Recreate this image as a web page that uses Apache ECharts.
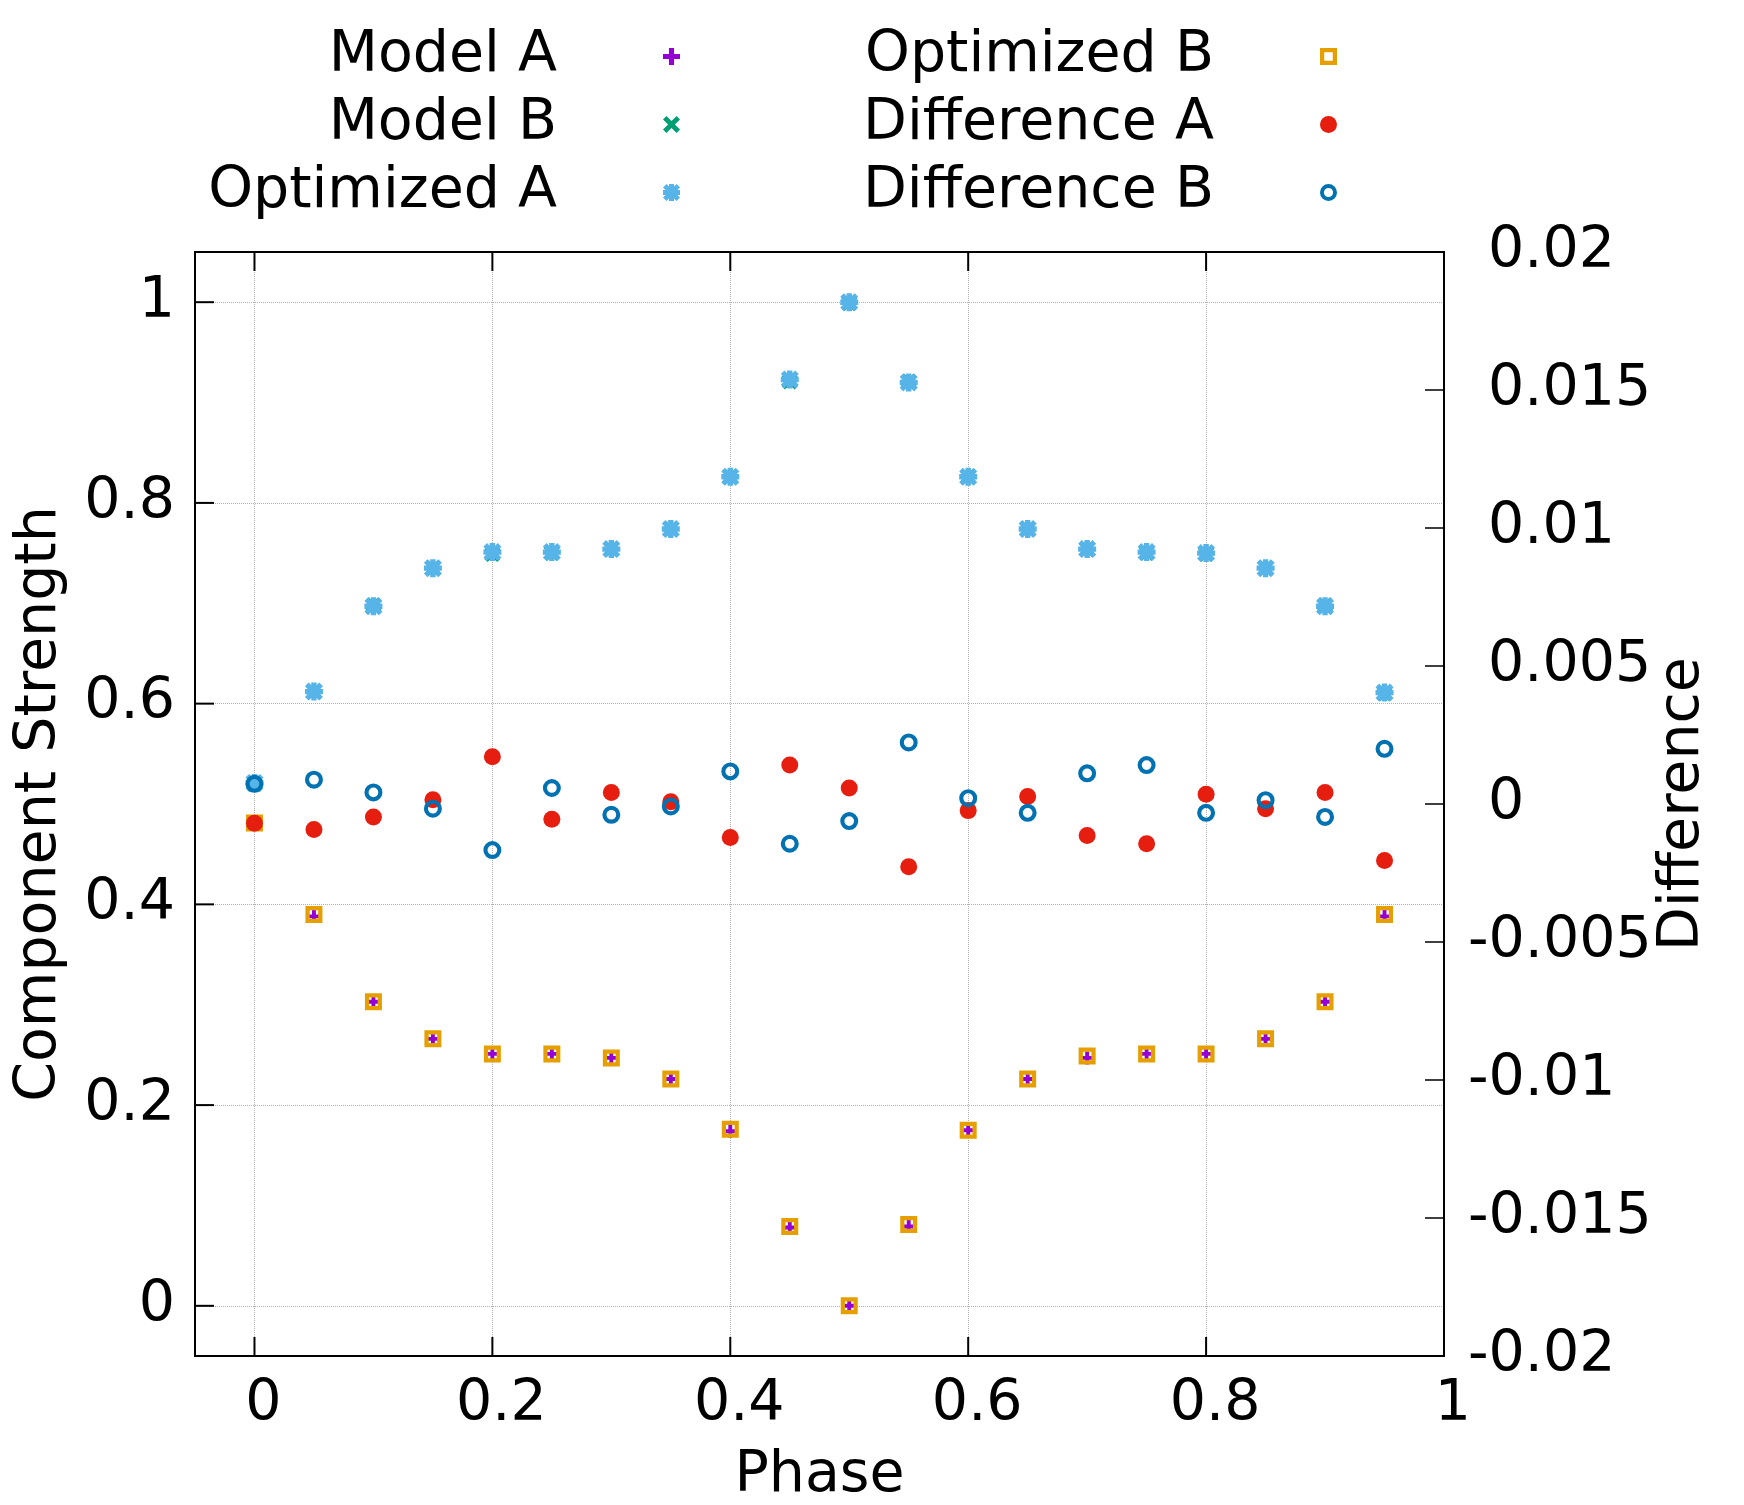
<!DOCTYPE html>
<html lang="en">
<head>
    <meta charset="UTF-8">
    <title>Component Strength vs Phase</title>
    <script src="https://cdn.jsdelivr.net/npm/echarts@6/dist/echarts.min.js"></script>
    <style>
        body {
            margin: 0;
            background-color: #ffffff;
        }
        #chart {
            width: 1744px;
            height: 1505px;
        }
    </style>
</head>
<body>
    <div id="chart"></div>

    <script>
        // phase values (x)
        const phase = [0, 0.05, 0.1, 0.15, 0.2, 0.25, 0.3, 0.35, 0.4, 0.45,
                       0.5, 0.55, 0.6, 0.65, 0.7, 0.75, 0.8, 0.85, 0.9, 0.95];

        // component strength, left axis
        const modelA = [0.480, 0.388, 0.303, 0.266, 0.251, 0.251, 0.247, 0.226, 0.174, 0.078,
                        0.000, 0.079, 0.175, 0.226, 0.247, 0.251, 0.251, 0.266, 0.303, 0.388];
        const modelB = [0.520, 0.612, 0.698, 0.735, 0.749, 0.750, 0.754, 0.774, 0.826, 0.921,
                        0.999, 0.921, 0.826, 0.774, 0.754, 0.750, 0.749, 0.735, 0.698, 0.610];
        const optimizedA = [0.521, 0.612, 0.697, 0.735, 0.751, 0.751, 0.754, 0.774, 0.826, 0.923,
                            1.000, 0.920, 0.826, 0.774, 0.754, 0.751, 0.750, 0.735, 0.697, 0.611];
        const optimizedB = [0.481, 0.390, 0.303, 0.266, 0.251, 0.251, 0.247, 0.226, 0.176, 0.079,
                            0.000, 0.081, 0.175, 0.226, 0.249, 0.251, 0.251, 0.266, 0.303, 0.390];

        // differences, right axis
        const diffA = [-0.00070, -0.00092, -0.00047, 0.00015, 0.00171, -0.00055, 0.00042, 0.00008, -0.00121, 0.00141,
                       0.00058, -0.00227, -0.00024, 0.00027, -0.00114, -0.00144, 0.00035, -0.00017, 0.00042, -0.00205];
        const diffB = [0.00073, 0.00088, 0.00042, -0.00017, -0.00167, 0.00058, -0.00039, -0.00009, 0.00118, -0.00144,
                       -0.00062, 0.00223, 0.00021, -0.00032, 0.00111, 0.00141, -0.00032, 0.00014, -0.00047, 0.00200];

        // major tick values
        const xTickVals = [0, 0.2, 0.4, 0.6, 0.8];
        const yTickVals = [0, 0.2, 0.4, 0.6, 0.8, 1];

        // axis ranges (gnuplot style, ticks every 0.2 but range padded)
        const X_MIN = -0.05, X_MAX = 1;
        const Y_MIN = -0.05, Y_MAX = 1.05;

        const FONT = 'DejaVu Sans';
        const FS = 57;
        const TICK_LEN = 19;

        // display axes are category axes on a 0.05 grid, so labels / grid lines can be
        // picked per value while the data sits on hidden value axes with the same range
        function steps(lo, hi) {
            const out = [];
            const n = Math.round((hi - lo) / 0.05);
            for (let i = 0; i <= n; i++) out.push(String(Number((lo + i * 0.05).toFixed(2))));
            return out;
        }
        const xCats = steps(X_MIN, X_MAX);
        const yCats = steps(Y_MIN, Y_MAX);

        function isMajor(index, value) {
            const v = Number(value);
            return v >= 0 && Math.abs(v * 5 - Math.round(v * 5)) < 1e-6;
        }

        // gnuplot-like point shapes (thick strokes)
        const PLUS = 'M7,0 H13 V7 H20 V13 H13 V20 H7 V13 H0 V7 H7 Z';
        const CROSS = 'M0,4 L4,0 L10,6 L16,0 L20,4 L14,10 L20,16 L16,20 L10,14 L4,20 L0,16 L6,10 Z';
        const shapes = {
            plus: 'path://' + PLUS,
            cross: 'path://' + CROSS,
            star: 'path://' + PLUS + ' ' + CROSS,
            openSquare: 'path://M0,0 H20 V20 H0 Z M5,5 V15 H15 V5 Z',
            openCircle: 'path://M10,0 A10,10 0 1,1 10,20 A10,10 0 1,1 10,0 Z M10,4.6 A5.4,5.4 0 1,0 10,15.4 A5.4,5.4 0 1,0 10,4.6 Z'
        };

        function pairs(ys) {
            return phase.map((x, i) => [x, ys[i]]);
        }

        function fmtNum(v) {
            return String(Number(Number(v).toFixed(4)));
        }

        function scatter(name, ys, yAxisIndex, symbol, size, color) {
            return {
                name: name,
                type: 'scatter',
                xAxisIndex: 1,
                yAxisIndex: yAxisIndex,
                data: pairs(ys),
                symbol: symbol,
                symbolSize: size,
                itemStyle: { color: color, opacity: 1 },
                emphasis: { disabled: true }
            };
        }

        // inward tick marks on the left / bottom / top borders
        // (points sit exactly on the border, so clipping is turned off)
        function tickMarks(data, size, offset) {
            return {
                type: 'scatter',
                xAxisIndex: 1,
                yAxisIndex: 1,
                data: data,
                symbol: 'rect',
                symbolSize: size,
                symbolOffset: offset,
                itemStyle: { color: '#000', opacity: 1 },
                clip: false,
                silent: true,
                z: 5
            };
        }

        function legendColumn(names, right) {
            return {
                data: names,
                orient: 'vertical',
                top: 23,
                right: right,
                align: 'right',
                itemWidth: 17,
                itemHeight: 17,
                itemGap: 11,
                selectedMode: false,
                formatter: '{n|{name}}{s|\u00a0}',
                textStyle: {
                    fontSize: FS,
                    fontFamily: FONT,
                    color: '#000',
                    rich: {
                        n: { width: 380, align: 'right', fontSize: FS, fontFamily: FONT, color: '#000', lineHeight: 57 },
                        s: { width: 101, fontSize: FS, lineHeight: 57 }
                    }
                }
            };
        }

        const gridLine = { color: '#b0b0b0', width: 1, type: 'dotted' };
        const frameLine = { show: true, onZero: false, lineStyle: { color: '#000', width: 2 } };
        const nameStyle = { fontSize: FS, fontFamily: FONT, color: '#000' };

        const option = {
            animation: false,
            backgroundColor: '#ffffff',
            textStyle: { fontFamily: FONT },
            grid: {
                left: 195,
                right: 300,
                top: 252,
                bottom: 149,
                show: true,
                borderColor: '#000',
                borderWidth: 2,
                containLabel: false,
                outerBoundsMode: 'none'
            },
            legend: [
                legendColumn(['Model A', 'Model B', 'Optimized A'], 1059),
                legendColumn(['Optimized B', 'Difference A', 'Difference B'], 402)
            ],
            xAxis: [
                {
                    // bottom axis: labels and vertical grid
                    type: 'category',
                    data: xCats,
                    boundaryGap: false,
                    position: 'bottom',
                    z: 0,
                    name: 'Phase',
                    nameLocation: 'middle',
                    nameGap: 92,
                    nameTextStyle: nameStyle,
                    axisLine: frameLine,
                    axisTick: { show: false },
                    axisLabel: {
                        interval: isMajor,
                        fontSize: FS,
                        fontFamily: FONT,
                        color: '#000',
                        margin: 21,
                        padding: [0, 0, 0, 18],
                        formatter: fmtNum
                    },
                    splitLine: { show: true, interval: isMajor, lineStyle: gridLine }
                },
                {
                    // data axis
                    type: 'value',
                    min: X_MIN,
                    max: X_MAX,
                    show: false
                }
            ],
            yAxis: [
                {
                    // left axis: labels and horizontal grid
                    type: 'category',
                    data: yCats,
                    boundaryGap: false,
                    position: 'left',
                    z: 0,
                    name: 'Component Strength',
                    nameLocation: 'middle',
                    nameRotate: 90,
                    nameGap: 126,
                    nameTextStyle: nameStyle,
                    axisLine: frameLine,
                    axisTick: { show: false },
                    axisLabel: {
                        interval: isMajor,
                        fontSize: FS,
                        fontFamily: FONT,
                        color: '#000',
                        margin: 20,
                        formatter: fmtNum
                    },
                    splitLine: { show: true, interval: isMajor, lineStyle: gridLine }
                },
                {
                    // data axis for component strength
                    type: 'value',
                    position: 'left',
                    min: Y_MIN,
                    max: Y_MAX,
                    show: false
                },
                {
                    type: 'value',
                    position: 'right',
                    min: -0.02,
                    max: 0.02,
                    interval: 0.005,
                    z: 3,
                    name: 'Difference',
                    nameLocation: 'middle',
                    nameRotate: 90,
                    nameGap: 211,
                    nameMoveOverlap: false,
                    nameTextStyle: nameStyle,
                    axisLine: frameLine,
                    axisTick: { show: true, inside: true, length: TICK_LEN, lineStyle: { color: '#000', width: 1.5 } },
                    axisLabel: {
                        fontSize: FS,
                        fontFamily: FONT,
                        color: '#000',
                        margin: 24,
                        align: 'left',
                        // negative labels start ~20px further left, like gnuplot draws them
                        formatter: function (v) {
                            const s = fmtNum(v);
                            return v < -1e-9 ? '{n|' + s + '}' : '{p|' + s + '}';
                        },
                        rich: {
                            n: { fontSize: FS, fontFamily: FONT, color: '#000' },
                            p: { fontSize: FS, fontFamily: FONT, color: '#000', padding: [0, 0, 0, 20] }
                        }
                    },
                    splitLine: { show: false }
                }
            ],
            series: [
                scatter('Model A', modelA, 1, shapes.plus, 13, '#9400d3'),
                scatter('Model B', modelB, 1, shapes.cross, 16, '#009e73'),
                scatter('Optimized A', optimizedA, 1, shapes.star, 18, '#56b4e9'),
                scatter('Optimized B', optimizedB, 1, shapes.openSquare, 17, '#e69f00'),
                scatter('Difference A', diffA, 2, 'circle', 17, '#e51e10'),
                scatter('Difference B', diffB, 2, shapes.openCircle, 18, '#0072b2'),
                tickMarks(yTickVals.map(v => [X_MIN, v]), [TICK_LEN, 2], [TICK_LEN / 2, 0]),
                tickMarks(xTickVals.map(v => [v, Y_MIN]), [2, TICK_LEN], [0, -TICK_LEN / 2]),
                tickMarks(xTickVals.map(v => [v, Y_MAX]), [2, TICK_LEN], [0, TICK_LEN / 2])
            ]
        };

        const chart = echarts.init(document.getElementById('chart'), null, { renderer: 'canvas' });
        chart.setOption(option);
    </script>
</body>
</html>
